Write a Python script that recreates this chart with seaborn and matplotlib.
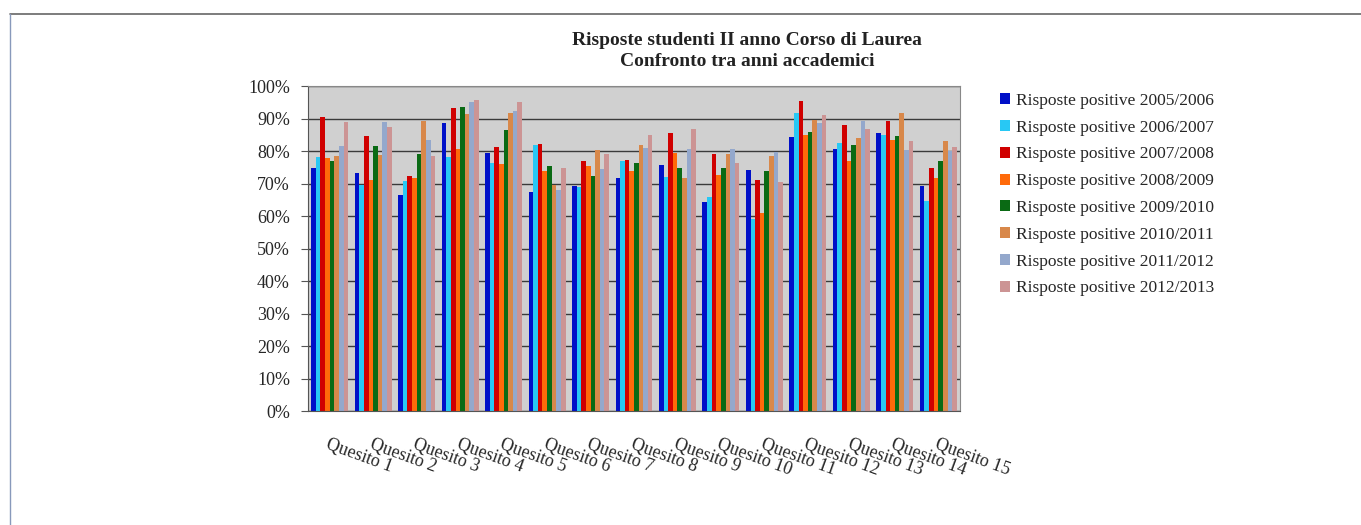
import pandas as pd
import matplotlib.pyplot as plt
import seaborn as sns
from matplotlib.lines import Line2D
from matplotlib.ticker import PercentFormatter, FixedLocator

quesiti = [f"Quesito {i}" for i in range(1, 16)]
anni = ["Risposte positive 2005/2006", "Risposte positive 2006/2007",
        "Risposte positive 2007/2008", "Risposte positive 2008/2009",
        "Risposte positive 2009/2010", "Risposte positive 2010/2011",
        "Risposte positive 2011/2012", "Risposte positive 2012/2013"]

# valori in % per anno accademico, Quesito 1..15
r_0506 = [74.7, 73.2, 66.4, 88.6, 79.5, 67.5, 69.4, 71.8, 75.7, 64.3, 74.2, 84.2, 80.6, 85.5, 69.2]
r_0607 = [78.3, 69.7, 70.8, 78.3, 76.2, 81.8, 68.8, 77.1, 72.1, 65.9, 59.0, 91.8, 82.6, 84.9, 64.6]
r_0708 = [90.6, 84.7, 72.3, 93.2, 81.3, 82.2, 77.0, 77.2, 85.6, 79.2, 71.0, 95.3, 88.0, 89.4, 74.7]
r_0809 = [77.8, 71.0, 71.6, 80.5, 76.1, 74.0, 75.4, 73.9, 79.3, 72.6, 61.0, 84.8, 77.1, 83.5, 71.8]
r_0910 = [77.0, 81.7, 79.0, 93.5, 86.4, 75.5, 72.2, 76.2, 74.8, 74.8, 74.0, 86.0, 81.9, 84.7, 77.0]
r_1011 = [78.4, 78.9, 89.4, 91.5, 91.6, 69.5, 80.4, 81.8, 71.8, 79.2, 78.5, 89.7, 84.1, 91.6, 83.2]
r_1112 = [81.7, 88.8, 83.3, 95.0, 92.3, 68.0, 74.5, 81.0, 80.5, 80.7, 79.7, 88.5, 89.4, 80.4, 80.0]
r_1213 = [88.8, 87.3, 78.5, 95.6, 95.1, 74.7, 79.0, 84.9, 86.7, 76.2, 70.5, 91.0, 86.7, 83.1, 81.3]

colori = ["#0010c8", "#28c8f4", "#d00000", "#ff6a0a", "#0a6a14", "#d8884a", "#94a8cc", "#cc9494"]

serie = [r_0506, r_0607, r_0708, r_0809, r_0910, r_1011, r_1112, r_1213]
rows = []
for anno, vals in zip(anni, serie):
    for q, v in zip(quesiti, vals):
        rows.append({"Quesito": q, "Anno": anno, "Valore": v})
data = pd.DataFrame(rows)

sns.set_style("white")
plt.rcParams["font.family"] = ["Liberation Serif", "DejaVu Serif"]

fig = plt.figure(figsize=(13.61, 5.25), dpi=100)
ax = fig.add_axes([308 / 1361, 0.217, 652 / 1361, 0.619])
ax.set_facecolor("#d0d0d0")

sns.barplot(data=data, x="Quesito", y="Valore", hue="Anno", palette=colori,
            width=0.85, ax=ax, edgecolor="none", saturation=1)

ax.set_ylim(0, 100)
ax.set_xlim(-0.5, len(quesiti) - 0.5)
ax.yaxis.set_major_locator(FixedLocator(range(0, 101, 10)))
ax.yaxis.set_major_formatter(PercentFormatter(decimals=0))
ax.grid(axis="y", color="#3a3a3a", linewidth=1)
ax.set_axisbelow(True)
ax.set_xlabel("")
ax.set_ylabel("")

ax.set_xticks(range(len(quesiti)))
ax.set_xticklabels(quesiti, rotation=-20, ha="left", va="top",
                   rotation_mode="anchor", fontsize=13)
ax.tick_params(axis="x", length=0, pad=18)
ax.set_xticks([i - 0.5 for i in range(len(quesiti) + 1)], minor=True)
ax.tick_params(axis="x", which="minor", length=5, color="#555555", width=1)
ax.tick_params(axis="y", labelsize=13, length=5, color="#555555", left=True, pad=8)

for s in ["top", "right"]:
    ax.spines[s].set_color("#888888")
for s in ["left", "bottom"]:
    ax.spines[s].set_color("#555555")

fig.text(747 / 1361, 1 - 51 / 525,
         "Risposte studenti II anno Corso di Laurea\nConfronto tra anni accademici",
         ha="center", va="center", fontsize=14, fontweight="bold",
         color="#222222", linespacing=1.3)

handles, labels = ax.get_legend_handles_labels()
ax.legend(handles, labels, loc="upper left", bbox_to_anchor=(993 / 1361, 1 - 86 / 525),
          bbox_transform=fig.transFigure, frameon=False,
          fontsize=12.5, handlelength=0.6, handleheight=0.6,
          handletextpad=0.3, labelspacing=0.62, borderaxespad=0)

# cornice dello screenshot
fig.add_artist(Line2D([0.007, 1.0], [0.973, 0.973], color="#666666", linewidth=1.2))
fig.add_artist(Line2D([0.007, 0.007], [0.0, 0.973], color="#8899bb", linewidth=1))

fig.savefig("out.png", dpi=100)
